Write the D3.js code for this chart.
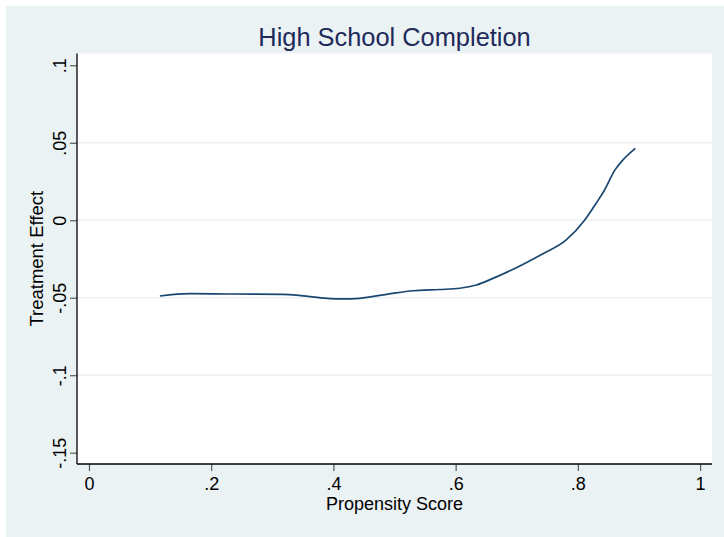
<!DOCTYPE html>
<html>
<head>
<meta charset="utf-8">
<script src="https://cdn.jsdelivr.net/npm/d3@7"></script>
<style>
  html, body { margin: 0; padding: 0; background: #ffffff; }
  svg { display: block; }
  text { font-family: "Liberation Sans", Arial, Helvetica, sans-serif; }
</style>
</head>
<body>
<svg id="chart" width="724" height="537"></svg>
<script>
// Smoothed treatment effect by propensity score
const propensity = [0.116, 0.165, 0.231, 0.317, 0.340, 0.366, 0.394, 0.415, 0.443, 0.460,
                    0.497, 0.530, 0.574, 0.607, 0.634, 0.661, 0.705, 0.742, 0.781, 0.811,
                    0.830, 0.843, 0.860, 0.874, 0.894];
const effect = [-0.0489, -0.0474, -0.0476, -0.0478, -0.0483, -0.0495, -0.0506, -0.0508, -0.0504, -0.0495,
                -0.0472, -0.0455, -0.0447, -0.0439, -0.0418, -0.0375, -0.0295, -0.0218, -0.0127, 0.0000,
                0.0110, 0.0190, 0.0320, 0.0390, 0.0464];

const xTicks = [0, 0.2, 0.4, 0.6, 0.8, 1];
const yTicks = [-0.15, -0.1, -0.05, 0, 0.05, 0.1];
const gridTicks = [-0.1, -0.05, 0, 0.05];

const titleText = "High School Completion";
const xTitle = "Propensity Score";
const yTitle = "Treatment Effect";

// Stata-style tick label: drop the leading zero
const fmt = v => {
  if (v === 0) return "0";
  const s = String(+v.toFixed(2));
  return s.replace(/^(-?)0\./, "$1.");
};

const svg = d3.select("#chart");
const W = 724, H = 537;
const plot = { left: 77, right: 712, top: 53.5, bottom: 464 };

const x = d3.scaleLinear().domain([-0.0196, 1.0195]).range([plot.left, plot.right]);
const y = d3.scaleLinear().domain([-0.1573, 0.1076]).range([plot.bottom, plot.top]);

// outer graph region
svg.append("rect")
  .attr("x", 6).attr("y", 6)
  .attr("width", W - 6).attr("height", H - 6)
  .attr("fill", "#eaf2f3");

// plot region
svg.append("rect")
  .attr("x", plot.left).attr("y", plot.top)
  .attr("width", plot.right - plot.left).attr("height", plot.bottom - plot.top)
  .attr("fill", "#ffffff");

// horizontal grid lines
svg.append("g")
  .selectAll("line")
  .data(gridTicks)
  .join("line")
  .attr("x1", plot.left).attr("x2", plot.right)
  .attr("y1", d => y(d)).attr("y2", d => y(d))
  .attr("stroke", "#eaf2f3")
  .attr("stroke-width", 1.6);

// axes
const xAxis = d3.axisBottom(x).tickValues(xTicks).tickFormat(fmt).tickSize(7).tickPadding(6);
const yAxis = d3.axisLeft(y).tickValues(yTicks).tickFormat(fmt).tickSize(7).tickPadding(6);

const gx = svg.append("g")
  .attr("transform", `translate(0,${plot.bottom})`)
  .call(xAxis);
gx.select(".domain").remove();
gx.selectAll(".tick line").attr("stroke", "#5a5a5a").attr("stroke-width", 1.2);
gx.selectAll(".tick text")
  .attr("fill", "#000")
  .attr("font-size", 18)
  .attr("font-family", "Liberation Sans, Arial, sans-serif");

const gy = svg.append("g")
  .attr("transform", `translate(${plot.left},0)`)
  .call(yAxis);
gy.select(".domain").remove();
gy.selectAll(".tick line").attr("stroke", "#5a5a5a").attr("stroke-width", 1.2);
gy.selectAll(".tick text")
  .attr("fill", "#000")
  .attr("font-size", 18)
  .attr("font-family", "Liberation Sans, Arial, sans-serif")
  .attr("text-anchor", "middle")
  .attr("dy", 0)
  .attr("x", 0)
  .attr("transform", "translate(-11,0) rotate(-90)");

// axis lines
svg.append("line")
  .attr("x1", plot.left).attr("x2", plot.left)
  .attr("y1", plot.top).attr("y2", plot.bottom)
  .attr("stroke", "#000").attr("stroke-width", 1.3);
svg.append("line")
  .attr("x1", plot.left).attr("x2", plot.right)
  .attr("y1", plot.bottom).attr("y2", plot.bottom)
  .attr("stroke", "#000").attr("stroke-width", 1.3);

// the smoothed curve
const pts = propensity.map((p, i) => [p, effect[i]]);
const line = d3.line()
  .x(d => x(d[0]))
  .y(d => y(d[1]))
  .curve(d3.curveMonotoneX);
svg.append("path")
  .datum(pts)
  .attr("d", line)
  .attr("fill", "none")
  .attr("stroke", "#1a476f")
  .attr("stroke-width", 1.7)
  .attr("stroke-linejoin", "round");

// titles
const cx = (plot.left + plot.right) / 2;
svg.append("text")
  .attr("x", cx).attr("y", 45.5)
  .attr("text-anchor", "middle")
  .attr("font-size", 25.4)
  .attr("fill", "#1e2a5a")
  .text(titleText);

svg.append("text")
  .attr("x", cx).attr("y", 510)
  .attr("text-anchor", "middle")
  .attr("font-size", 18)
  .attr("fill", "#000")
  .text(xTitle);

svg.append("text")
  .attr("transform", `translate(43,${(plot.top + plot.bottom) / 2}) rotate(-90)`)
  .attr("text-anchor", "middle")
  .attr("font-size", 18.5)
  .attr("fill", "#000")
  .text(yTitle);
</script>
</body>
</html>
